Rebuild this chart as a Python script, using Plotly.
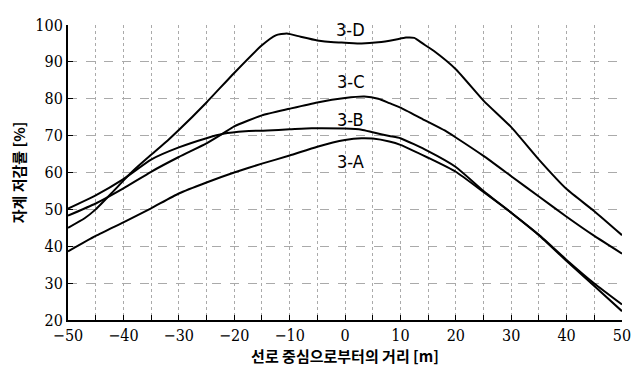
import plotly.graph_objects as go

# Series data (distance from line centre [m] -> reduction rate [%])
x_3a = [-50, -45, -40, -35, -30, -25, -20, -15, -10, -5, 0, 3, 5, 8, 10, 15, 20, 25, 30, 35, 40, 45, 50]
y_3a = [38.6, 42.8, 46.5, 50.3, 54.3, 57.3, 60.0, 62.4, 64.6, 67.0, 68.8, 69.3, 69.2, 68.4, 67.5, 64.0, 60.2, 54.7, 49.1, 43.1, 36.3, 29.9, 24.2]

x_3b = [-50, -45, -40, -35, -30, -25, -22, -18, -14, -10, -6, 0, 3, 5, 8, 10, 15, 20, 25, 30, 35, 40, 45, 50]
y_3b = [50.2, 53.8, 58.2, 63.5, 66.8, 69.3, 70.5, 71.2, 71.4, 71.7, 72.0, 71.9, 71.6, 70.9, 69.9, 69.3, 65.8, 61.5, 55.0, 49.1, 43.0, 36.0, 29.2, 22.4]

x_3c = [-50, -45, -40, -35, -30, -25, -22, -20, -15, -10, -5, 0, 3.5, 6, 8, 10, 14, 18, 20, 25, 30, 35, 40, 45, 50]
y_3c = [48.3, 51.6, 55.7, 60.2, 64.2, 67.9, 70.6, 72.5, 75.5, 77.3, 79.0, 80.2, 80.6, 80.0, 78.8, 77.6, 74.5, 71.4, 69.5, 64.5, 59.0, 53.5, 48.0, 42.8, 38.0]

x_3d = [-50, -47, -45, -42, -40, -38, -35, -32, -30, -25, -20, -15, -12.5, -10.5, -8, -5, -2, 0, 3, 6, 9, 11, 12.5, 14, 16, 20, 25, 30, 35, 40, 45, 50]
y_3d = [45.0, 47.6, 50.0, 54.6, 57.8, 60.8, 64.8, 68.7, 71.5, 79.0, 87.0, 94.5, 97.2, 97.7, 96.8, 95.8, 95.3, 95.2, 95.0, 95.3, 96.0, 96.6, 96.5, 95.0, 93.0, 88.0, 79.5, 72.3, 63.5, 55.5, 49.5, 43.0]

series = [("3-A", x_3a, y_3a), ("3-B", x_3b, y_3b), ("3-C", x_3c, y_3c), ("3-D", x_3d, y_3d)]
label_pos = {"3-A": (1, 63), "3-B": (1, 74.3), "3-C": (1, 84.6), "3-D": (1, 98.7)}

x_ticks = [-50, -40, -30, -20, -10, 0, 10, 20, 30, 40, 50]
y_ticks = [20, 30, 40, 50, 60, 70, 80, 90, 100]

fig = go.Figure()
for name, xs, ys in series:
    fig.add_trace(go.Scatter(x=xs, y=ys, mode="lines", name=name,
                             line=dict(color="black", width=2, shape="spline", smoothing=0.5),
                             showlegend=False))
    lx, ly = label_pos[name]
    fig.add_annotation(x=lx, y=ly, text=name, showarrow=False,
                       font=dict(family="DejaVu Sans Condensed, DejaVu Sans", size=18, color="black"))

tick_font = dict(family="DejaVu Serif Condensed, DejaVu Serif", size=16, color="black")
title_font = dict(family="Noto Sans CJK KR", size=15, color="black")

fig.update_layout(
    width=632, height=362,
    margin=dict(l=56, r=18, t=8, b=50),
    paper_bgcolor="white", plot_bgcolor="white",
    xaxis=dict(range=[-50, 50], tickvals=x_ticks, ticks="inside", ticklen=5, tickcolor="black",
               showline=True, linecolor="black", linewidth=2,
               showgrid=True, gridcolor="#aaaaaa", griddash="dot", gridwidth=1,
               minor=dict(dtick=5, tick0=0, ticks="inside", ticklen=5, tickcolor="black",
                          showgrid=True, gridcolor="#aaaaaa", griddash="dot"),
               tickfont=tick_font, zeroline=False, ticklabeloverflow="allow",
               title=dict(text="<b>선로 중심으로부터의 거리 [m]</b>", font=title_font, standoff=0)),
    yaxis=dict(range=[20, 100], tickvals=y_ticks, ticks="inside", ticklen=5, tickcolor="black",
               showline=True, linecolor="black", linewidth=2,
               showgrid=True, gridcolor="#aaaaaa", griddash="dash", gridwidth=1,
               tickfont=tick_font, zeroline=False, ticklabeloverflow="allow",
               title=dict(text="<b>자계 저감률 [%]</b>", font=title_font, standoff=9)),
)

fig.write_html("out.html")
